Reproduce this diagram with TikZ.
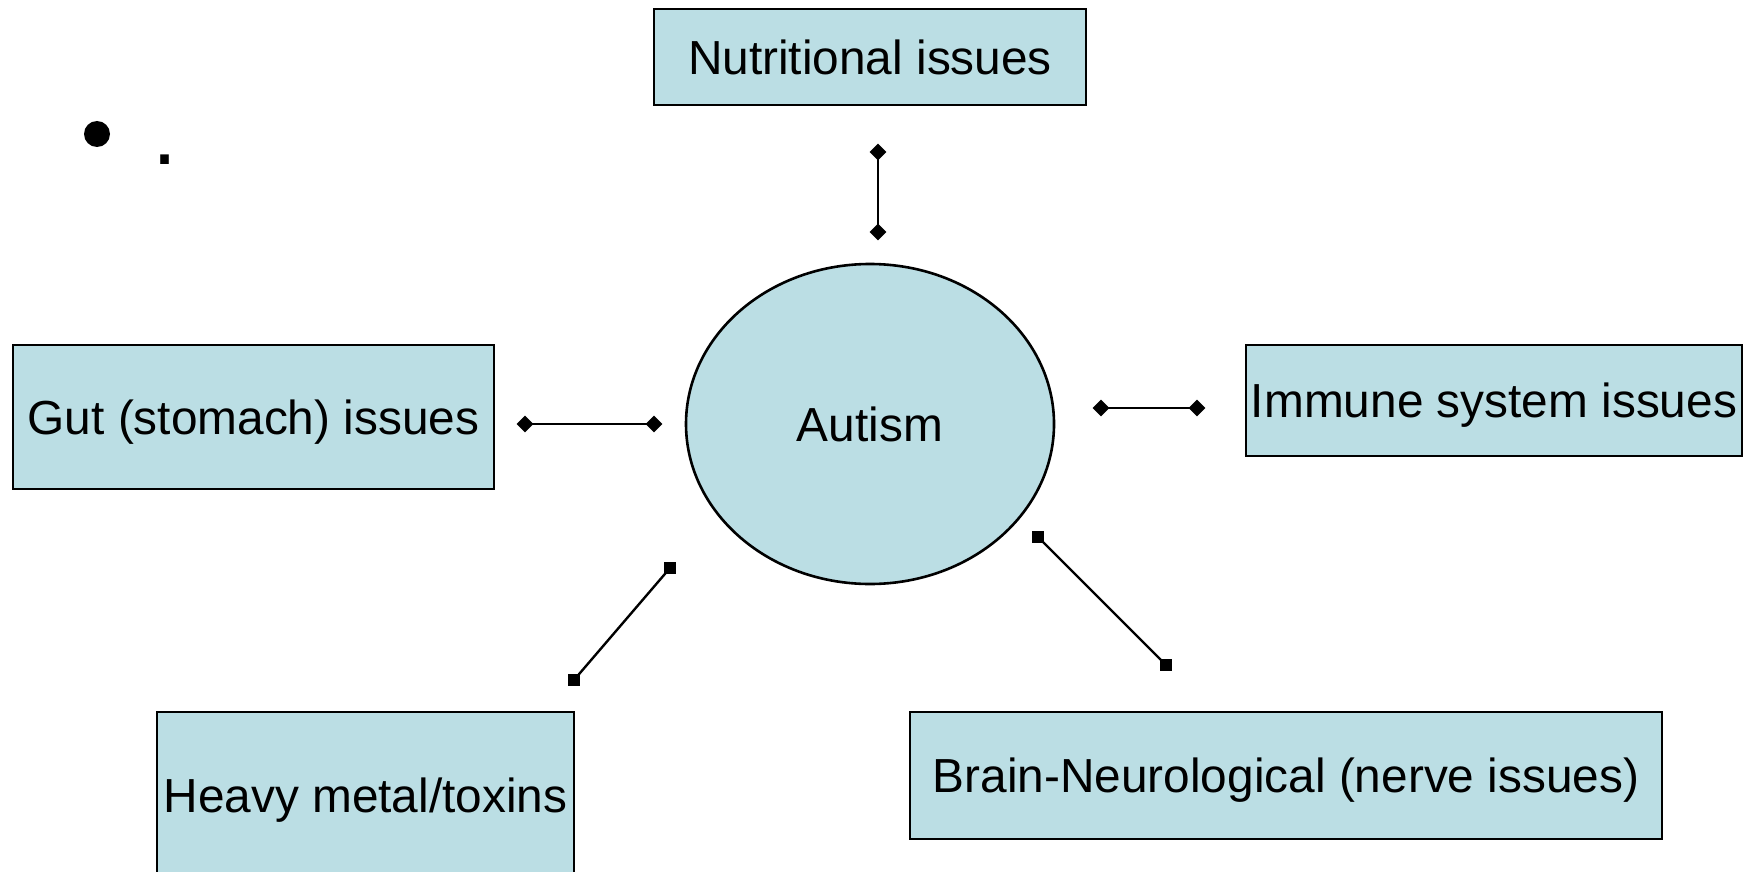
\documentclass[tikz,border=0pt]{standalone}
\usepackage{fontspec}
\setmainfont{Liberation Sans}
\usetikzlibrary{shapes.geometric}
\definecolor{boxfill}{RGB}{187,222,228}
\tikzset{
  box/.style={draw=black, line width=1.3pt, fill=boxfill, rectangle, inner sep=0pt,
    text depth=0pt, font=\fontsize{23.9pt}{28pt}\selectfont},
  hub/.style={draw=black, line width=1.3pt, fill=boxfill, ellipse, inner sep=0pt,
    text depth=0pt, font=\fontsize{23.9pt}{28pt}\selectfont},
  dmark/.style={diamond, fill=black, inner sep=0pt, minimum width=8.5pt, minimum height=8.5pt},
  smark/.style={rectangle, fill=black, inner sep=0pt, minimum size=6pt},
  con/.style={line width=1.2pt},
}
\begin{document}
\begin{tikzpicture}[x=0.5pt,y=-0.5pt]
\useasboundingbox (0,0) rectangle (1750,872);
\clip (0,0) rectangle (1750,872);
% bullet and period
\node (bullet) [circle, fill=black, inner sep=0pt, minimum size=13pt] at (97,134) {};
\node (dot) [anchor=base, inner sep=0pt, font=\fontsize{45pt}{50pt}\selectfont] at (165,164.5) {.};
% nodes
\node (nut) [box, minimum width=216pt, minimum height=48pt] at (870,57) {Nutritional issues};
\node (gut) [box, minimum width=240.5pt, minimum height=72pt] at (253.5,417) {Gut (stomach) issues};
\node (imm) [box, minimum width=248pt, minimum height=55.5pt] at (1494,400.5) {Immune system issues};
\node (hvy) [box, minimum width=208.5pt, minimum height=83pt] at (365.5,795) {Heavy metal/toxins};
\node (brn) [box, minimum width=376pt, minimum height=63.5pt] at (1286,775.5) {Brain-Neurological (nerve issues)};
\node (aut) [hub, minimum width=184pt, minimum height=160pt] at (870,424) {Autism};
% connector end markers
\node (n1) [dmark] at (878,152) {};
\node (n2) [dmark] at (878,232) {};
\node (g1) [dmark] at (525,424) {};
\node (g2) [dmark] at (654,424) {};
\node (i1) [dmark] at (1101,408) {};
\node (i2) [dmark] at (1197,408) {};
\node (h1) [smark] at (670,568) {};
\node (h2) [smark] at (574,680) {};
\node (b1) [smark] at (1038,537) {};
\node (b2) [smark] at (1166,665) {};
% connectors
\draw[con] (n1.center) -- (n2.center);
\draw[con] (g1.center) -- (g2.center);
\draw[con] (i1.center) -- (i2.center);
\draw[con] (h1.center) -- (h2.center);
\draw[con] (b1.center) -- (b2.center);
\end{tikzpicture}
\end{document}
